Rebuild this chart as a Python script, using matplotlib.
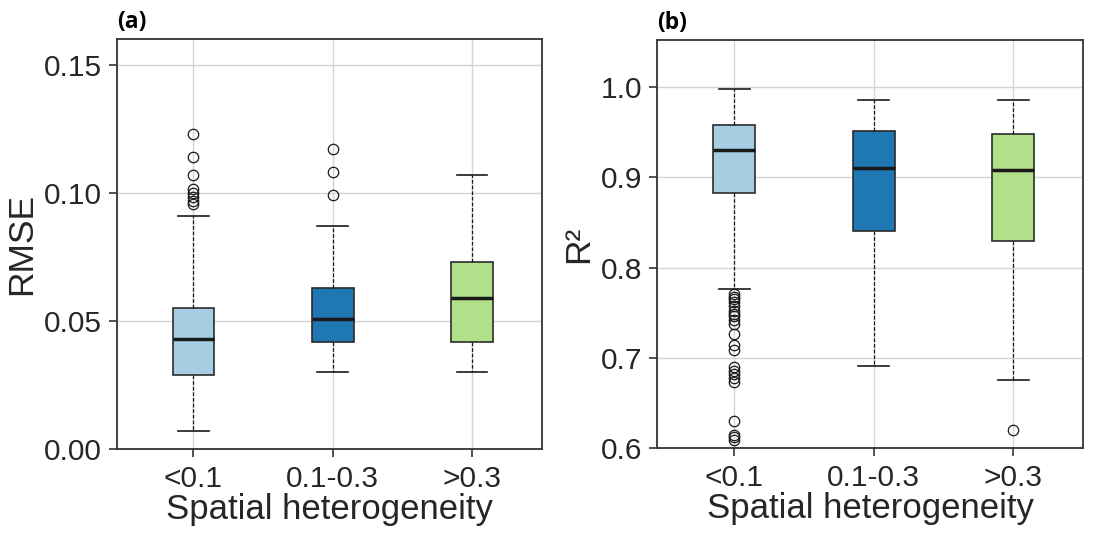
import numpy as np
import matplotlib.pyplot as plt

plt.rcParams['font.family'] = ['Liberation Sans', 'DejaVu Sans']

groups = ['<0.1', '0.1-0.3', '>0.3']
colors = ['#a6cee3', '#1f78b4', '#b2df8a']

# RMSE box statistics
rmse_low = [0.007, 0.030, 0.030]
rmse_q1 = [0.029, 0.042, 0.042]
rmse_med = [0.043, 0.051, 0.059]
rmse_q3 = [0.055, 0.063, 0.073]
rmse_high = [0.091, 0.087, 0.107]
rmse_fliers = [
    [0.123, 0.114, 0.107, 0.1015, 0.100, 0.0985, 0.097, 0.0955],
    [0.117, 0.108, 0.099],
    [],
]

# R2 box statistics
r2_low = [0.776, 0.691, 0.676]
r2_q1 = [0.883, 0.841, 0.830]
r2_med = [0.930, 0.910, 0.908]
r2_q3 = [0.958, 0.951, 0.948]
r2_high = [0.998, 0.986, 0.985]
r2_fliers = [
    [0.771, 0.768, 0.765, 0.762, 0.758, 0.752, 0.749, 0.746, 0.742, 0.738,
     0.726, 0.714, 0.709, 0.690, 0.686, 0.682, 0.678, 0.673, 0.630,
     0.615, 0.612, 0.609],
    [],
    [0.620],
]


def make_stats(low, q1, med, q3, high, fliers):
    out = []
    for i in range(len(low)):
        out.append(dict(whislo=low[i], q1=q1[i], med=med[i], q3=q3[i],
                        whishi=high[i], fliers=fliers[i], label=groups[i]))
    return out


def draw(ax, stats, ylim, yticks, fmt, ylabel, tag):
    bp = ax.bxp(stats, positions=range(3), widths=0.3, patch_artist=True,
                showfliers=True, capwidths=0.22,
                boxprops=dict(edgecolor='#2b2b2b', linewidth=1.2),
                medianprops=dict(color='#1a1a1a', linewidth=2.5),
                whiskerprops=dict(color='#1a1a1a', linewidth=0.9, linestyle=(0, (3, 1.5))),
                capprops=dict(color='#1a1a1a', linewidth=1.2),
                flierprops=dict(marker='o', markerfacecolor='none',
                                markeredgecolor='#1a1a1a', markersize=7.5,
                                markeredgewidth=0.9))
    for patch, c in zip(bp['boxes'], colors):
        patch.set_facecolor(c)
    ax.set_xlim(-0.55, 2.5)
    ax.set_ylim(*ylim)
    ax.set_yticks(yticks)
    ax.set_yticklabels([fmt % v for v in yticks])
    ax.set_xticks(range(3))
    ax.set_xticklabels(groups)
    ax.grid(True, color='#d4d4d4', linewidth=1)
    ax.set_axisbelow(True)
    for s in ax.spines.values():
        s.set_color('#333333')
        s.set_linewidth(1.3)
    ax.tick_params(labelsize=21.5, length=6, width=1.2, color='#333333',
                   labelcolor='#262626', pad=5)
    ax.set_xlabel('Spatial heterogeneity', fontsize=25, color='#262626', labelpad=0)
    ax.set_ylabel(ylabel, fontsize=25.5, color='#262626', labelpad=4)
    ax.text(0.0, 1.012, tag, transform=ax.transAxes, fontsize=16.5,
            fontweight='bold', ha='left', va='bottom',
            family=['Open Sans', 'DejaVu Sans'])


fig = plt.figure(figsize=(11.03, 5.33), dpi=100)
ax1 = fig.add_axes([0.106, 0.157, 0.385, 0.77])
ax2 = fig.add_axes([0.596, 0.159, 0.386, 0.766])

draw(ax1, make_stats(rmse_low, rmse_q1, rmse_med, rmse_q3, rmse_high, rmse_fliers),
     (0, 0.16), [0, 0.05, 0.10, 0.15], '%.2f', 'RMSE', '(a)')
draw(ax2, make_stats(r2_low, r2_q1, r2_med, r2_q3, r2_high, r2_fliers),
     (0.6, 1.052), [0.6, 0.7, 0.8, 0.9, 1.0], '%.1f', 'R²', '(b)')

fig.savefig('out.png', dpi=100)
